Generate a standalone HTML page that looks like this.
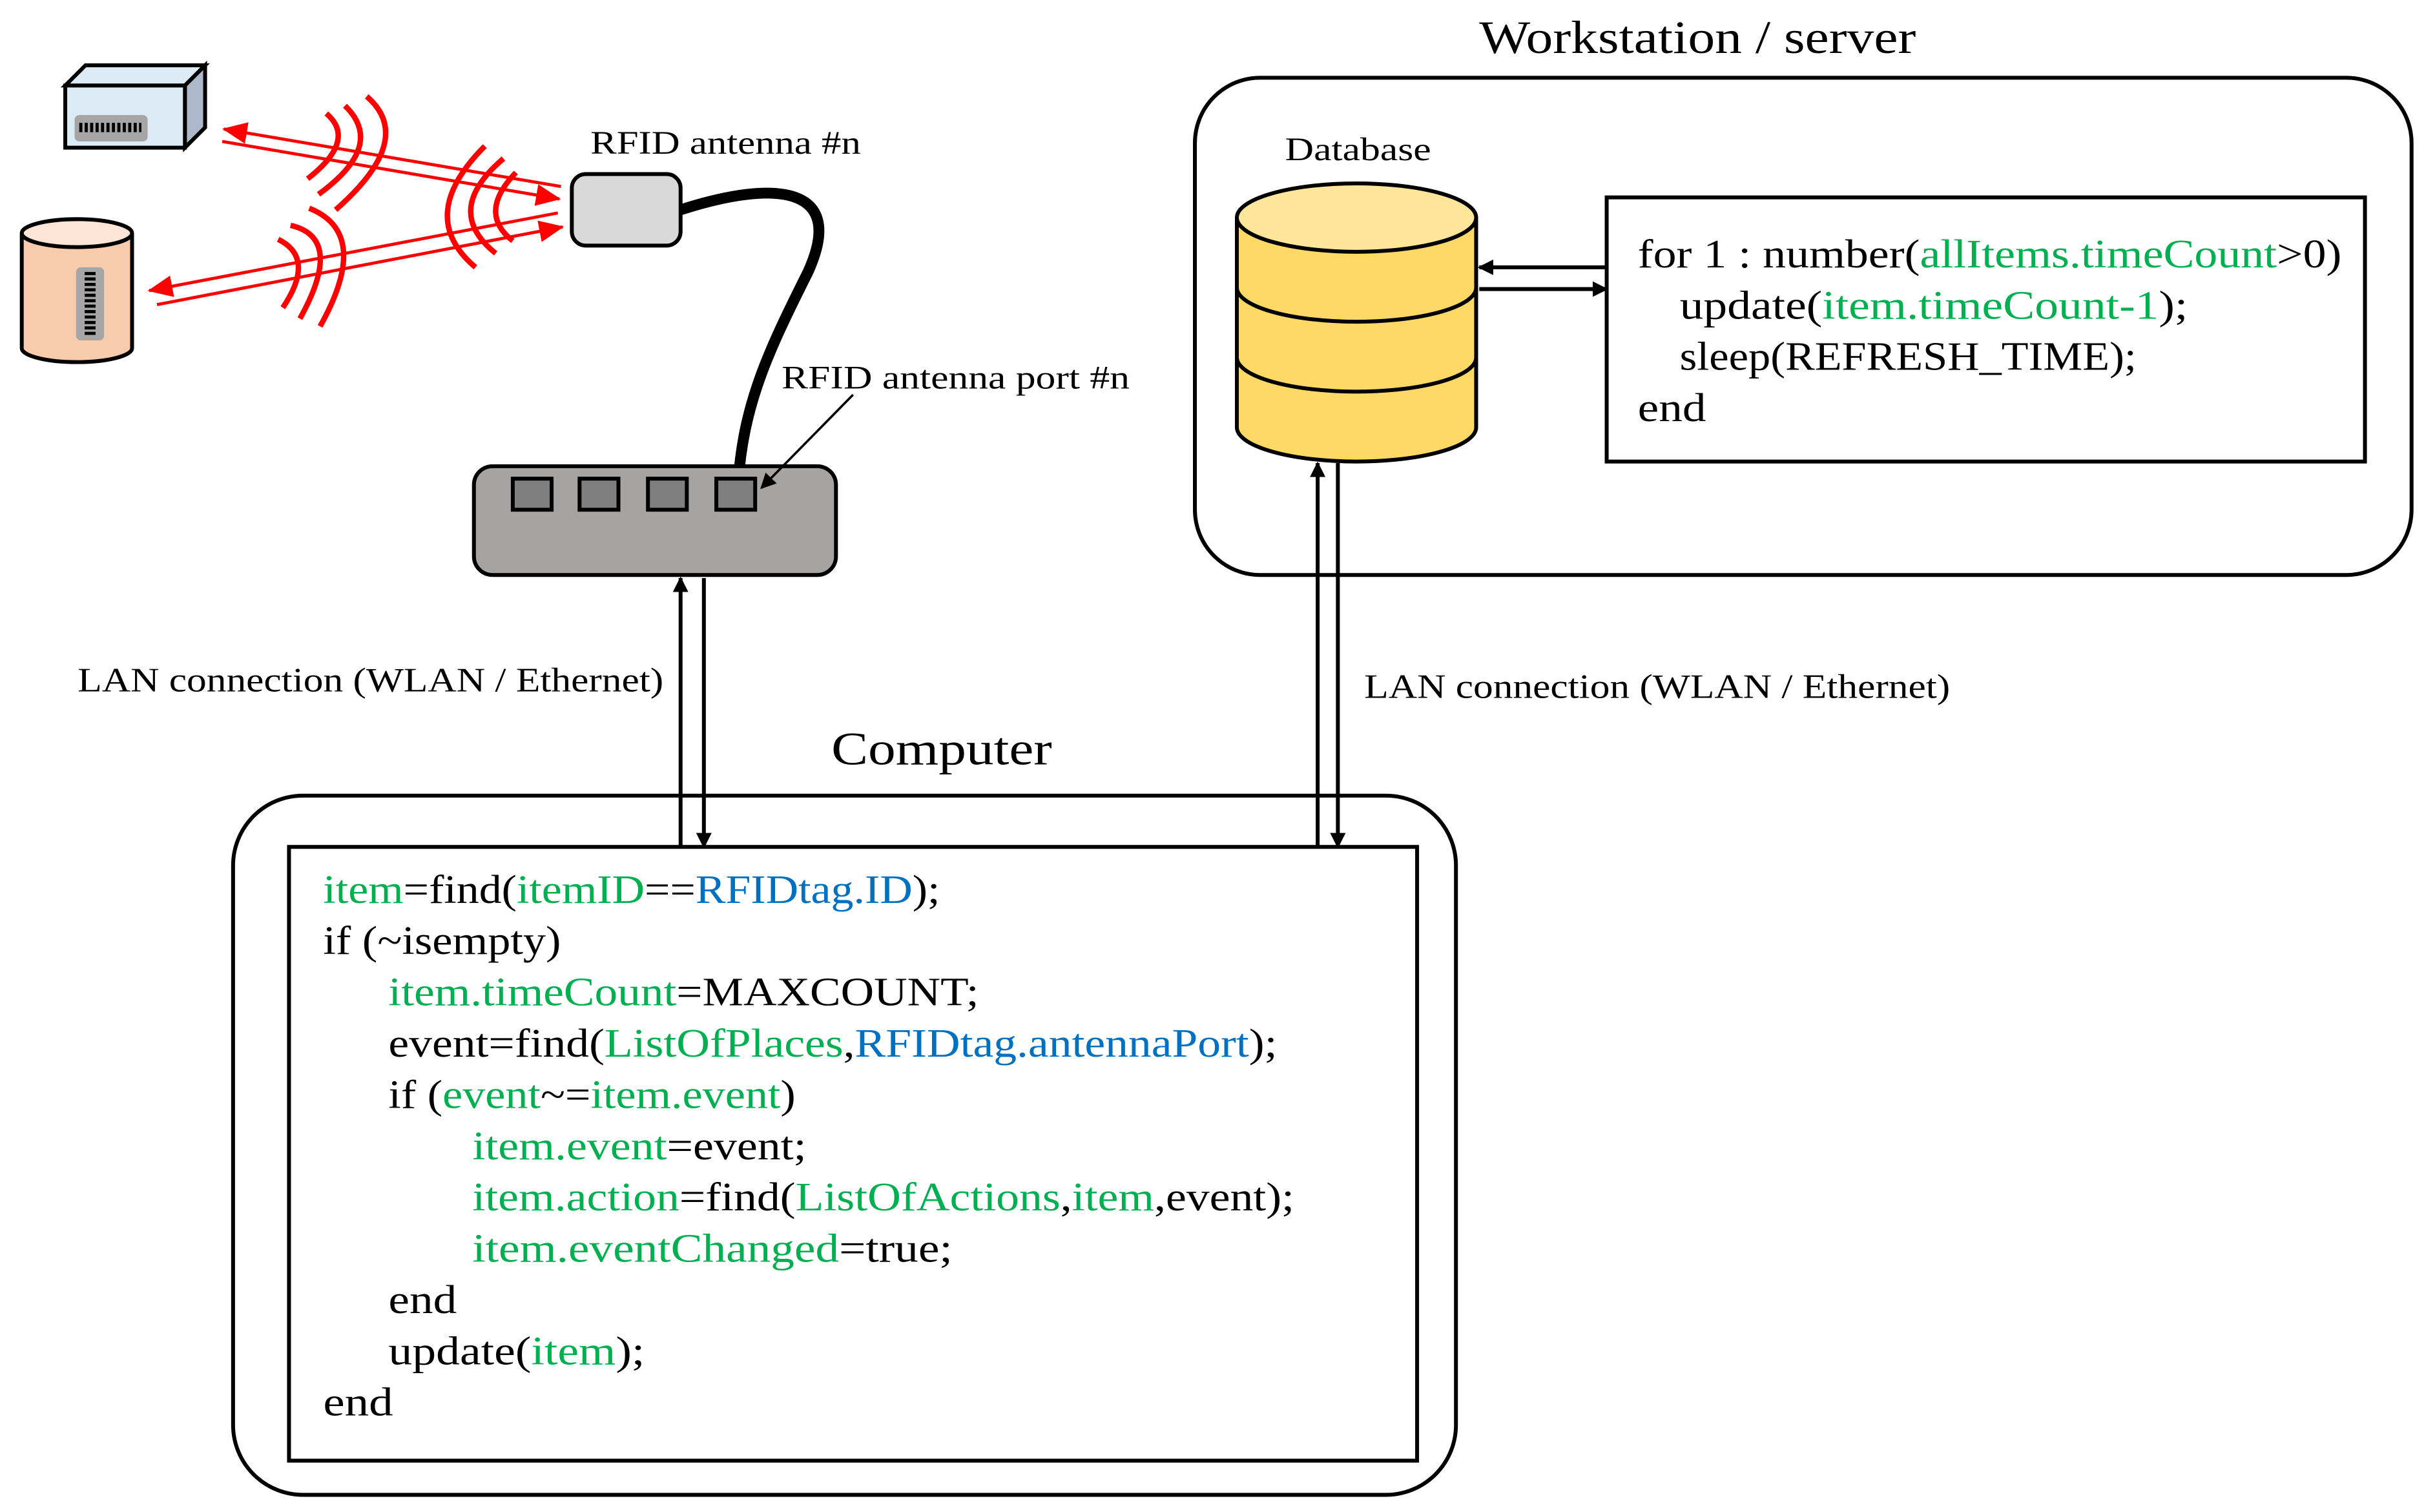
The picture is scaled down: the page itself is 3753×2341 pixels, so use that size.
<!DOCTYPE html>
<html><head><meta charset="utf-8"><style>
html,body{margin:0;padding:0;background:#fff;}
svg{display:block;}
text{font-family:"Liberation Serif",serif;fill:#000;}
.g{fill:#00B050;} .b{fill:#0070C0;}
</style></head><body>
<svg width="3753" height="2341" viewBox="0 0 1560 973" xmlns="http://www.w3.org/2000/svg">
<defs>
<marker id="ak" markerWidth="10" markerHeight="10" refX="9" refY="5" orient="auto" markerUnits="userSpaceOnUse"><path d="M0,0 L10,5 L0,10 z" fill="#000"/></marker>
<marker id="ar" markerWidth="16" markerHeight="14" refX="15" refY="7" orient="auto" markerUnits="userSpaceOnUse"><path d="M0,0 L16,7 L0,14 z" fill="#f00"/></marker>
</defs>

<!-- Workstation -->
<text x="952" y="34" font-size="30" textLength="281" lengthAdjust="spacingAndGlyphs">Workstation / server</text>
<rect x="769" y="50" width="783" height="320" rx="42" fill="none" stroke="#000" stroke-width="2.5"/>
<text x="827" y="103" font-size="21" textLength="94" lengthAdjust="spacingAndGlyphs">Database</text>
<path d="M796,140 V275 A77,22 0 0 0 950,275 V140" fill="#FFD966" stroke="#000" stroke-width="2.5"/>
<path d="M796,185 A77,22 0 0 0 950,185 M796,230 A77,22 0 0 0 950,230" fill="none" stroke="#000" stroke-width="2.5"/>
<ellipse cx="873" cy="140" rx="77" ry="22" fill="#FFE699" stroke="#000" stroke-width="2.5"/>
<rect x="1034" y="127" width="488" height="170" fill="#fff" stroke="#000" stroke-width="2.5"/>
<g font-size="26">
<text x="1054" y="172" textLength="453" lengthAdjust="spacingAndGlyphs">for 1 : number(<tspan class="g">allItems.timeCount</tspan>&gt;0)</text>
<text x="1081" y="205" textLength="327" lengthAdjust="spacingAndGlyphs">update(<tspan class="g">item.timeCount-1</tspan>);</text>
<text x="1081" y="238" textLength="294" lengthAdjust="spacingAndGlyphs">sleep(REFRESH_TIME);</text>
<text x="1054" y="271" textLength="44" lengthAdjust="spacingAndGlyphs">end</text>
</g>
<line x1="1034" y1="172" x2="952" y2="172" stroke="#000" stroke-width="2.5" marker-end="url(#ak)"/>
<line x1="952" y1="186" x2="1034" y2="186" stroke="#000" stroke-width="2.5" marker-end="url(#ak)"/>

<line x1="848" y1="545" x2="848" y2="298" stroke="#000" stroke-width="2.5" marker-end="url(#ak)"/>
<line x1="861" y1="298" x2="861" y2="545" stroke="#000" stroke-width="2.5" marker-end="url(#ak)"/>
<text x="878" y="449" font-size="22" textLength="377" lengthAdjust="spacingAndGlyphs">LAN connection (WLAN / Ethernet)</text>

<!-- router & antenna -->
<path d="M438,135 C500,115 545,120 520,175 C495,225 478,260 475,312" fill="none" stroke="#000" stroke-width="7"/>
<rect x="368" y="112" width="70" height="46" rx="9" fill="#d9d9d9" stroke="#000" stroke-width="2.5"/>
<text x="380" y="99" font-size="21" textLength="174" lengthAdjust="spacingAndGlyphs">RFID antenna #n</text>
<rect x="305" y="300" width="233" height="70" rx="12" fill="#a6a3a3" stroke="#000" stroke-width="2.5"/>
<g fill="#7f7f7f" stroke="#000" stroke-width="2.5">
<rect x="330" y="308" width="25" height="20"/><rect x="373" y="308" width="25" height="20"/>
<rect x="417" y="308" width="25" height="20"/><rect x="461" y="308" width="25" height="20"/>
</g>
<text x="503" y="250" font-size="21" textLength="224" lengthAdjust="spacingAndGlyphs">RFID antenna port #n</text>
<line x1="549" y1="254" x2="490" y2="314" stroke="#000" stroke-width="1.5" marker-end="url(#ak)"/>

<line x1="438" y1="545" x2="438" y2="372" stroke="#000" stroke-width="2.5" marker-end="url(#ak)"/>
<line x1="453" y1="372" x2="453" y2="545" stroke="#000" stroke-width="2.5" marker-end="url(#ak)"/>
<text x="50" y="445" font-size="22" textLength="377" lengthAdjust="spacingAndGlyphs">LAN connection (WLAN / Ethernet)</text>

<!-- tags -->
<path d="M42,55 L55,42 L132,42 L119,55 z" fill="#ddebf7" stroke="#000" stroke-width="2.5"/>
<path d="M119,55 L132,42 L132,82 L119,95 z" fill="#adb9ca" stroke="#000" stroke-width="2.5"/>
<rect x="42" y="55" width="77" height="40" fill="#ddebf7" stroke="#000" stroke-width="2.5"/>
<rect x="48" y="74" width="47" height="17" rx="3" fill="#a6a6a6"/>
<path d="M51,82 h40" stroke="#000" stroke-width="6" stroke-dasharray="2,1.5"/>
<path d="M14,150 V224 A35.5,9 0 0 0 85,224 V150" fill="#f8cbad" stroke="#000" stroke-width="2.5"/>
<ellipse cx="49.5" cy="150" rx="35.5" ry="9" fill="#fce4d6" stroke="#000" stroke-width="2.5"/>
<rect x="49" y="172" width="18" height="47" rx="3" fill="#a6a6a6"/>
<path d="M58,175 v41" stroke="#000" stroke-width="7" stroke-dasharray="2,1.5"/>

<!-- RF -->
<g stroke="#f00" stroke-width="2" fill="none">
<line x1="361" y1="120" x2="144" y2="83" marker-end="url(#ar)"/>
<line x1="143" y1="91" x2="360" y2="128" marker-end="url(#ar)"/>
<line x1="359" y1="137" x2="96" y2="187" marker-end="url(#ar)"/>
<line x1="101" y1="196" x2="362" y2="146" marker-end="url(#ar)"/>
</g>
<g stroke="#f00" stroke-width="3.5" fill="none">
<path d="M210,73 Q230,90 198,115"/>
<path d="M222,68 Q248.5,93.5 205,125"/>
<path d="M236,62 Q268,89.5 216,135"/>
<path d="M332,111 Q307,137 330,155"/>
<path d="M324,102 Q284.5,135.5 319,163"/>
<path d="M312,94 Q267,139 306,172"/>
<path d="M179,154 Q203.5,166 182,198"/>
<path d="M187,145 Q222,153 193,205"/>
<path d="M199,134 Q239.5,150 206,210"/>
</g>

<!-- Computer -->
<text x="535" y="492" font-size="30" textLength="142" lengthAdjust="spacingAndGlyphs">Computer</text>
<rect x="150" y="512" width="787" height="450" rx="45" fill="none" stroke="#000" stroke-width="2.5"/>
<rect x="186" y="545" width="726" height="395" fill="#fff" stroke="#000" stroke-width="2.5"/>
<g font-size="26">
<text x="208" y="581" textLength="397" lengthAdjust="spacingAndGlyphs"><tspan class="g">item</tspan>=find(<tspan class="g">itemID</tspan>==<tspan class="b">RFIDtag.ID</tspan>);</text>
<text x="208" y="614" textLength="153" lengthAdjust="spacingAndGlyphs">if (~isempty)</text>
<text x="250" y="647" textLength="380" lengthAdjust="spacingAndGlyphs"><tspan class="g">item.timeCount</tspan>=MAXCOUNT;</text>
<text x="250" y="680" textLength="572" lengthAdjust="spacingAndGlyphs">event=find(<tspan class="g">ListOfPlaces</tspan>,<tspan class="b">RFIDtag.antennaPort</tspan>);</text>
<text x="250" y="713" textLength="262" lengthAdjust="spacingAndGlyphs">if (<tspan class="g">event</tspan>~=<tspan class="g">item.event</tspan>)</text>
<text x="304" y="746" textLength="215" lengthAdjust="spacingAndGlyphs"><tspan class="g">item.event</tspan>=event;</text>
<text x="304" y="779" textLength="529" lengthAdjust="spacingAndGlyphs"><tspan class="g">item.action</tspan>=find(<tspan class="g">ListOfActions</tspan>,<tspan class="g">item</tspan>,event);</text>
<text x="304" y="812" textLength="309" lengthAdjust="spacingAndGlyphs"><tspan class="g">item.eventChanged</tspan>=true;</text>
<text x="250" y="845" textLength="44" lengthAdjust="spacingAndGlyphs">end</text>
<text x="250" y="878" textLength="165" lengthAdjust="spacingAndGlyphs">update(<tspan class="g">item</tspan>);</text>
<text x="208" y="911" textLength="45" lengthAdjust="spacingAndGlyphs">end</text>
</g>
</svg>
</body></html>
